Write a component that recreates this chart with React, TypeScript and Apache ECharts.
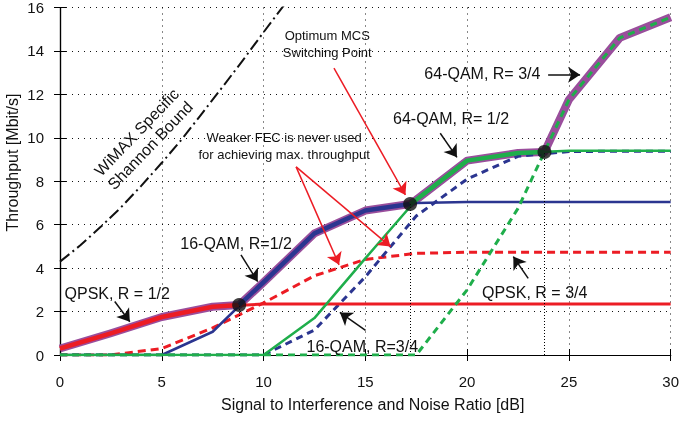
import React, { useEffect, useRef } from "react";
import * as echarts from "echarts";

// SINR grid (dB)
const snrX = [0, 2.5, 5, 7.5, 10, 12.5, 15, 17.5, 20, 22.5, 25, 27.5, 30];
// Throughput per MCS (Mbit/s)
const qpsk12 = [0.3, 1.0, 1.75, 2.22, 2.35, 2.35, 2.35, 2.35, 2.35, 2.35, 2.35, 2.35, 2.35];
const qpsk34 = [0, 0, 0.3, 1.25, 2.4, 3.65, 4.4, 4.68, 4.73, 4.73, 4.73, 4.73, 4.73];
const qam16r12 = [0, 0, 0, 1.07, 3.35, 5.6, 6.65, 7.0, 7.05, 7.05, 7.05, 7.05, 7.05];
const qam16r34 = [0, 0, 0, 0, 0, 1.15, 3.6, 6.4, 8.1, 9.15, 9.37, 9.38, 9.38];
const qam64r12 = [0, 0, 0, 0, 0, 1.7, 4.45, 7.15, 8.95, 9.3, 9.4, 9.4, 9.4];
const qam64r34 = [0, 0, 0, 0, 0, 0, 0, 0, 3.0, 6.75, 11.75, 14.6, 15.55];

// Max-throughput envelope
const envX = [0, 2.5, 5, 7.5, 8.8, 10, 12.5, 15, 17.2, 17.5, 20, 22.5, 23.8, 25, 27.5, 30];
const envY = [0.3, 1.0, 1.75, 2.22, 2.3, 3.35, 5.6, 6.65, 6.95, 7.15, 8.95, 9.3, 9.35, 11.75, 14.6, 15.55];

// Optimum MCS switching points
const switchX = [8.8, 17.2, 23.8];
const switchY = [2.3, 6.95, 9.35];

// WiMAX specific Shannon bound
const shannonX = [0, 1, 2, 3, 4, 5, 6, 7, 8, 9, 10, 11];
const shannonY = [4.3, 5.05, 5.9, 6.8, 7.8, 8.85, 9.95, 11.15, 12.36, 13.59, 14.86, 16.1];

// Axis ticks
const xTicks = [0, 5, 10, 15, 20, 25, 30];
const yTicks = [0, 2, 4, 6, 8, 10, 12, 14, 16];

// Annotation arrows [from, to] in data coords
const blackArrows = [
  [[23.98, 12.9], [25.55, 12.9]],
  [[18.68, 10.21], [19.5, 9.1]],
  [[8.89, 4.61], [9.71, 3.38]],
  [[2.69, 2.46], [3.43, 1.53]],
  [[23.0, 3.53], [22.27, 4.53]],
  [[15.01, 1.13], [13.75, 1.96]],
];
const redArrows = [
  [[13.46, 13.21], [16.97, 7.37]],
  [[11.6, 8.66], [13.71, 4.15]],
  [[11.6, 8.66], [16.24, 4.99]],
];

// Annotation labels
const labels = [
  { text: "Optimum MCS\nSwitching Point", x: 13.13, y: 14.33, size: 13, rot: 0 },
  { text: "Weaker FEC is never used\nfor achieving max. throughput", x: 11.01, y: 9.61, size: 13, rot: 0 },
  { text: "64-QAM, R= 3/4", x: 20.75, y: 12.98, size: 16, rot: 0 },
  { text: "64-QAM, R= 1/2", x: 19.21, y: 10.87, size: 16, rot: 0 },
  { text: "16-QAM, R=1/2", x: 8.65, y: 5.12, size: 16, rot: 0 },
  { text: "QPSK, R = 1/2", x: 2.81, y: 2.83, size: 16, rot: 0 },
  { text: "QPSK, R = 3/4", x: 23.32, y: 2.9, size: 16, rot: 0 },
  { text: "16-QAM, R=3/4", x: 14.85, y: 0.41, size: 16, rot: 0 },
  { text: "WiMAX Specific\nShannon Bound", x: 4.1, y: 9.95, size: 16, rot: 46.2 },
];

const RED = "#ec1c24";
const BLUE = "#2b3590";
const GREEN = "#1fae4b";
const PURPLE = "#9a4e9c";
const FONT = '"Liberation Sans", Arial, Helvetica, sans-serif';

export default function App() {
  const ref = useRef<HTMLDivElement>(null);

  useEffect(() => {
    const chart = echarts.init(ref.current!, null, { renderer: "svg" });
    const pts = (ys: number[]) => snrX.map((x, i) => [x, ys[i]]);
    const envPts = envX.map((x, i) => [x, envY[i]]);
    const envSeg = (a: number, b: number) => envPts.filter((p) => p[0] >= a && p[0] <= b);

    const line = (name: string, data: number[][], color: string, width: number, type: any, z: number) => ({
      type: "line",
      name,
      data,
      symbol: "none",
      silent: true,
      z,
      lineStyle: { color, width, type, cap: "butt", join: "round" },
      itemStyle: { color },
      emphasis: { disabled: true },
    });

    const arrowSeries = (arrows: number[][][], color: string) => ({
      type: "line",
      data: [],
      symbol: "none",
      silent: true,
      z: 20,
      markLine: {
        silent: true,
        symbol: ["none", "arrow"],
        symbolSize: 12,
        label: { show: false },
        emphasis: { disabled: true },
        lineStyle: { color, width: 1.5, type: "solid" },
        data: arrows.map((a) => [{ coord: a[0] }, { coord: a[1] }]),
      },
    });

    const axisCommon = {
      axisLine: { show: true, lineStyle: { color: "#000", width: 1.2 } },
      axisTick: { show: true, inside: true, length: 6, lineStyle: { color: "#000", width: 1 } },
    };
    const gridLine = { show: true, lineStyle: { color: "#111", width: 1, type: [1, 5] } };

    chart.setOption({
      animation: false,
      grid: { left: 60, right: 9, top: 6, bottom: 66, show: false },
      xAxis: [
        {
          type: "value",
          min: 0,
          max: 30,
          interval: 5,
          ...axisCommon,
          axisLabel: {
            fontSize: 15,
            color: "#111",
            fontFamily: FONT,
            margin: 19,
            formatter: (v: number) => (xTicks.includes(v) ? String(v) : ""),
          },
          splitLine: gridLine,
        },
        {
          type: "value",
          position: "top",
          min: 0,
          max: 30,
          interval: 5,
          ...axisCommon,
          axisLabel: { show: false },
          splitLine: { show: false },
        },
      ],
      yAxis: [
        {
          type: "value",
          min: 0,
          max: 16,
          interval: 2,
          ...axisCommon,
          axisLabel: {
            fontSize: 15,
            color: "#111",
            fontFamily: FONT,
            margin: 16,
            formatter: (v: number) => (yTicks.includes(v) ? String(v) : ""),
          },
          splitLine: gridLine,
        },
        {
          type: "value",
          position: "right",
          min: 0,
          max: 16,
          interval: 2,
          ...axisCommon,
          axisLabel: { show: false },
          splitLine: { show: false },
        },
      ],
      series: [
        line("envelope", envPts, PURPLE, 8, "solid", 2),
        line("QPSK R=3/4", pts(qpsk34), RED, 3, [8, 5], 3),
        line("16-QAM R=3/4", pts(qam16r34), BLUE, 3, [7, 5], 3),
        line("QPSK R=1/2", pts(qpsk12), RED, 3, "solid", 3),
        line("16-QAM R=1/2", pts(qam16r12), BLUE, 2.5, "solid", 3),
        line("64-QAM R=1/2", pts(qam64r12), GREEN, 2.5, "solid", 3),
        line("env-qpsk", envSeg(0, 8.8), RED, 4.5, "solid", 4),
        line("env-16qam", envSeg(8.8, 17.2), BLUE, 4.5, "solid", 4),
        line("env-64qam", envSeg(17.2, 23.8), GREEN, 4.5, "solid", 4),
        line("64-QAM R=3/4", pts(qam64r34), GREEN, 3, [7, 5], 5),
        line("Shannon", shannonX.map((x, i) => [x, shannonY[i]]), "#111", 2, [12, 4, 2, 4], 5),
        {
          type: "scatter",
          data: switchX.map((x, i) => [x, switchY[i]]),
          symbolSize: 14,
          itemStyle: { color: "#111" },
          silent: true,
          z: 30,
          markLine: {
            silent: true,
            symbol: "none",
            label: { show: false },
            emphasis: { disabled: true },
            lineStyle: { color: "#000", width: 1, type: [1, 2] },
            data: switchX.map((x, i) => [{ coord: [x, 0] }, { coord: [x, switchY[i]] }]),
          },
        },
        arrowSeries(blackArrows, "#111"),
        arrowSeries(redArrows, RED),
      ],
    });

    const toPx = (x: number, y: number) =>
      chart.convertToPixel({ xAxisIndex: 0, yAxisIndex: 0 } as any, [x, y]) as number[];

    const graphics: any[] = labels.map((l) => {
      const p = toPx(l.x, l.y);
      return {
        type: "text",
        x: p[0],
        y: p[1],
        rotation: (l.rot * Math.PI) / 180,
        silent: true,
        z: 50,
        style: {
          text: l.text,
          fill: "#111",
          font: `${l.size}px ${FONT}`,
          align: "center",
          verticalAlign: "middle",
          lineHeight: l.rot ? 19 : 17,
        },
      };
    });
    graphics.push({
      type: "text",
      x: 372.7,
      y: 404.3,
      silent: true,
      style: {
        text: "Signal to Interference and Noise Ratio [dB]",
        fill: "#111",
        font: `16px ${FONT}`,
        align: "center",
        verticalAlign: "middle",
      },
    });
    graphics.push({
      type: "text",
      x: 12.5,
      y: 162.5,
      rotation: Math.PI / 2,
      silent: true,
      style: {
        text: "Throughput [Mbit/s]",
        fill: "#111",
        font: `16px ${FONT}`,
        align: "center",
        verticalAlign: "middle",
      },
    });
    chart.setOption({ graphic: graphics });

    return () => chart.dispose();
  }, []);

  return (
    <div
      ref={ref}
      style={{ position: "fixed", left: 0, top: 0, width: 682, height: 421 }}
    />
  );
}
